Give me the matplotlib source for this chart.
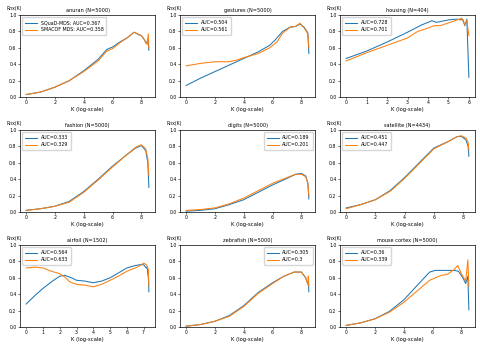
import matplotlib
matplotlib.use("Agg")
import matplotlib.pyplot as plt
import numpy as np

titles = ["anuran (N=5000)", "gestures (N=5000)", "housing (N=404)",
          "fashion (N=5000)", "digits (N=5000)", "satellite (N=4434)",
          "airfoil (N=1502)", "zebrafish (N=5000)", "mouse cortex (N=5000)"]

labels_a = ["SQuaD-MDS: AUC=0.367", "AUC=0.504", "AUC=0.728",
            "AUC=0.333", "AUC=0.189", "AUC=0.451",
            "AUC=0.564", "AUC=0.305", "AUC=0.36"]
labels_b = ["SMACOF MDS: AUC=0.358", "AUC=0.561", "AUC=0.701",
            "AUC=0.329", "AUC=0.201", "AUC=0.447",
            "AUC=0.633", "AUC=0.3", "AUC=0.339"]

legend_locs = ["upper left", "upper left", "upper left",
               "upper left", "upper right", "upper left",
               "upper left", "upper right", "upper left"]

xtick_sets = [[0, 2, 4, 6, 8], [0, 2, 4, 6, 8], [0, 1, 2, 3, 4, 5, 6],
              [0, 2, 4, 6, 8], [0, 2, 4, 6, 8], [0, 2, 4, 6, 8],
              [0, 1, 2, 3, 4, 5, 6, 7], [0, 2, 4, 6, 8], [0, 2, 4, 6, 8]]

# anuran
anuran_x_a = [0, 1, 2, 3, 4, 5, 5.6, 6, 6.5, 7, 7.5, 7.8, 8, 8.2, 8.35, 8.45, 8.52]
anuran_y_a = [0.03, 0.06, 0.12, 0.2, 0.32, 0.46, 0.58, 0.61, 0.67, 0.72, 0.79, 0.76, 0.75, 0.7, 0.65, 0.7, 0.57]
anuran_x_b = [0, 1, 2, 3, 4, 5, 5.6, 6, 6.5, 7, 7.5, 8, 8.2, 8.4, 8.48, 8.52]
anuran_y_b = [0.03, 0.06, 0.12, 0.2, 0.31, 0.44, 0.56, 0.59, 0.66, 0.72, 0.79, 0.75, 0.7, 0.64, 0.77, 0.6]

# gestures
gest_x_a = [0, 1, 2, 3, 4, 5, 5.8, 6.2, 6.7, 7.2, 7.6, 7.9, 8.2, 8.45, 8.52]
gest_y_a = [0.14, 0.23, 0.31, 0.39, 0.47, 0.55, 0.63, 0.7, 0.8, 0.85, 0.86, 0.89, 0.85, 0.78, 0.53]
gest_x_b = [0, 1, 2, 3, 3.5, 4, 5, 5.8, 6.3, 6.7, 7.3, 7.6, 7.9, 8.2, 8.45, 8.52]
gest_y_b = [0.38, 0.41, 0.43, 0.43, 0.45, 0.48, 0.53, 0.6, 0.67, 0.78, 0.86, 0.86, 0.9, 0.84, 0.77, 0.6]

# housing
hous_x_a = [0, 1, 2, 3, 3.7, 4, 4.2, 4.4, 5, 5.4, 5.6, 5.7, 5.8, 5.9, 6.0]
hous_y_a = [0.47, 0.56, 0.67, 0.79, 0.88, 0.91, 0.93, 0.91, 0.94, 0.95, 0.94, 0.95, 0.87, 0.95, 0.24]
hous_x_b = [0, 1, 2, 3, 3.5, 4, 4.3, 4.6, 5.2, 5.65, 5.8, 5.9, 6.0]
hous_y_b = [0.44, 0.54, 0.63, 0.72, 0.8, 0.84, 0.87, 0.87, 0.92, 0.96, 0.88, 0.94, 0.75]

# fashion
fash_x_a = [0, 1, 2, 3, 4, 5, 6, 7, 7.6, 8, 8.3, 8.45, 8.52]
fash_y_a = [0.02, 0.04, 0.07, 0.13, 0.25, 0.4, 0.56, 0.7, 0.78, 0.81, 0.75, 0.6, 0.3]
fash_x_b = [0, 1, 2, 3, 4, 5, 6, 7, 7.6, 8, 8.3, 8.45, 8.52]
fash_y_b = [0.02, 0.04, 0.07, 0.12, 0.24, 0.39, 0.55, 0.7, 0.79, 0.82, 0.77, 0.65, 0.45]

# digits
dig_x_a = [0, 1, 2, 3, 4, 5, 6, 7, 7.6, 8, 8.3, 8.45, 8.52]
dig_y_a = [0.01, 0.02, 0.04, 0.09, 0.15, 0.24, 0.33, 0.41, 0.46, 0.47, 0.44, 0.35, 0.16]
dig_x_b = [0, 1, 2, 3, 4, 5, 6, 7, 7.6, 8, 8.3, 8.45, 8.52]
dig_y_b = [0.02, 0.03, 0.05, 0.1, 0.17, 0.26, 0.35, 0.42, 0.46, 0.46, 0.43, 0.35, 0.2]

# satellite
sat_x_a = [0, 1, 2, 3, 4, 5, 6, 7, 7.6, 7.9, 8.2, 8.35, 8.4]
sat_y_a = [0.05, 0.09, 0.15, 0.26, 0.42, 0.6, 0.78, 0.86, 0.92, 0.92, 0.88, 0.8, 0.68]
sat_x_b = [0, 1, 2, 3, 4, 5, 6, 7, 7.6, 7.9, 8.2, 8.35, 8.4]
sat_y_b = [0.04, 0.09, 0.15, 0.25, 0.41, 0.59, 0.77, 0.86, 0.92, 0.93, 0.9, 0.85, 0.76]

# airfoil
air_x_a = [0, 0.5, 1, 1.5, 2, 2.3, 2.7, 3, 3.5, 4, 4.5, 5, 5.5, 6, 6.5, 6.8, 7, 7.15, 7.2, 7.28, 7.31]
air_y_a = [0.28, 0.38, 0.47, 0.55, 0.62, 0.63, 0.6, 0.57, 0.56, 0.54, 0.56, 0.6, 0.66, 0.72, 0.75, 0.76, 0.76, 0.72, 0.73, 0.6, 0.43]
air_x_b = [0, 0.5, 1, 1.5, 2, 2.3, 2.6, 3, 3.5, 4, 4.5, 5, 5.5, 6, 6.5, 6.8, 7, 7.15, 7.22, 7.28, 7.31]
air_y_b = [0.72, 0.73, 0.72, 0.68, 0.65, 0.61, 0.55, 0.52, 0.51, 0.49, 0.52, 0.57, 0.62, 0.68, 0.72, 0.75, 0.78, 0.76, 0.74, 0.7, 0.5]

# zebrafish
zeb_x_a = [0, 1, 2, 3, 4, 5, 6, 6.8, 7.5, 8, 8.3, 8.45, 8.48, 8.52]
zeb_y_a = [0.01, 0.03, 0.07, 0.14, 0.26, 0.42, 0.54, 0.62, 0.67, 0.67, 0.6, 0.52, 0.56, 0.43]
zeb_x_b = [0, 1, 2, 3, 4, 5, 6, 6.8, 7.5, 8, 8.3, 8.45, 8.48, 8.52]
zeb_y_b = [0.01, 0.03, 0.07, 0.13, 0.25, 0.41, 0.53, 0.62, 0.67, 0.67, 0.6, 0.52, 0.62, 0.5]

# mouse cortex
mc_x_a = [0, 1, 2, 3, 4, 5, 5.8, 6.2, 6.6, 7, 7.5, 7.8, 8.1, 8.3, 8.45, 8.52]
mc_y_a = [0.02, 0.05, 0.1, 0.19, 0.33, 0.52, 0.67, 0.69, 0.69, 0.69, 0.69, 0.68, 0.6, 0.53, 0.62, 0.21]
mc_x_b = [0, 1, 2, 3, 4, 5, 5.8, 6.2, 6.6, 7, 7.5, 7.75, 8.0, 8.3, 8.45, 8.52]
mc_y_b = [0.02, 0.05, 0.1, 0.18, 0.3, 0.45, 0.57, 0.6, 0.63, 0.64, 0.7, 0.75, 0.65, 0.56, 0.82, 0.5]

series_a = [(anuran_x_a, anuran_y_a), (gest_x_a, gest_y_a), (hous_x_a, hous_y_a),
            (fash_x_a, fash_y_a), (dig_x_a, dig_y_a), (sat_x_a, sat_y_a),
            (air_x_a, air_y_a), (zeb_x_a, zeb_y_a), (mc_x_a, mc_y_a)]
series_b = [(anuran_x_b, anuran_y_b), (gest_x_b, gest_y_b), (hous_x_b, hous_y_b),
            (fash_x_b, fash_y_b), (dig_x_b, dig_y_b), (sat_x_b, sat_y_b),
            (air_x_b, air_y_b), (zeb_x_b, zeb_y_b), (mc_x_b, mc_y_b)]

W, H = 481, 349
fig = plt.figure(figsize=(W / 100, H / 100), dpi=100)

lefts = [20, 180, 340]
tops = [15, 130, 245]
aw, ah = 135, 82

for i in range(9):
    r, c = divmod(i, 3)
    ax = fig.add_axes([lefts[c] / W, 1 - (tops[r] + ah) / H, aw / W, ah / H])
    xa, ya = series_a[i]
    xb, yb = series_b[i]
    ax.plot(xa, ya, color="#1f77b4", lw=0.75, label=labels_a[i])
    ax.plot(xb, yb, color="#ff7f0e", lw=0.75, label=labels_b[i])
    ax.set_ylim(0, 1)
    ax.set_yticks([0, 0.2, 0.4, 0.6, 0.8, 1.0])
    ax.set_xticks(xtick_sets[i])
    ax.tick_params(labelsize=3.3, length=1.3, width=0.4, pad=1.2)
    for s in ax.spines.values():
        s.set_linewidth(0.5)
    ax.set_title(titles[i], fontsize=3.6, pad=2)
    ax.set_xlabel("K (log-scale)", fontsize=3.8, labelpad=1.2)
    ax.text(-0.045, 1.05, "Rnx(K)", transform=ax.transAxes, fontsize=3.3,
            ha="center", va="bottom")
    ax.legend(loc=legend_locs[i], fontsize=3.4, handlelength=2.5,
              borderpad=0.6, labelspacing=0.45, framealpha=0.8,
              borderaxespad=0.5)

fig.savefig("out.png", dpi=100)
